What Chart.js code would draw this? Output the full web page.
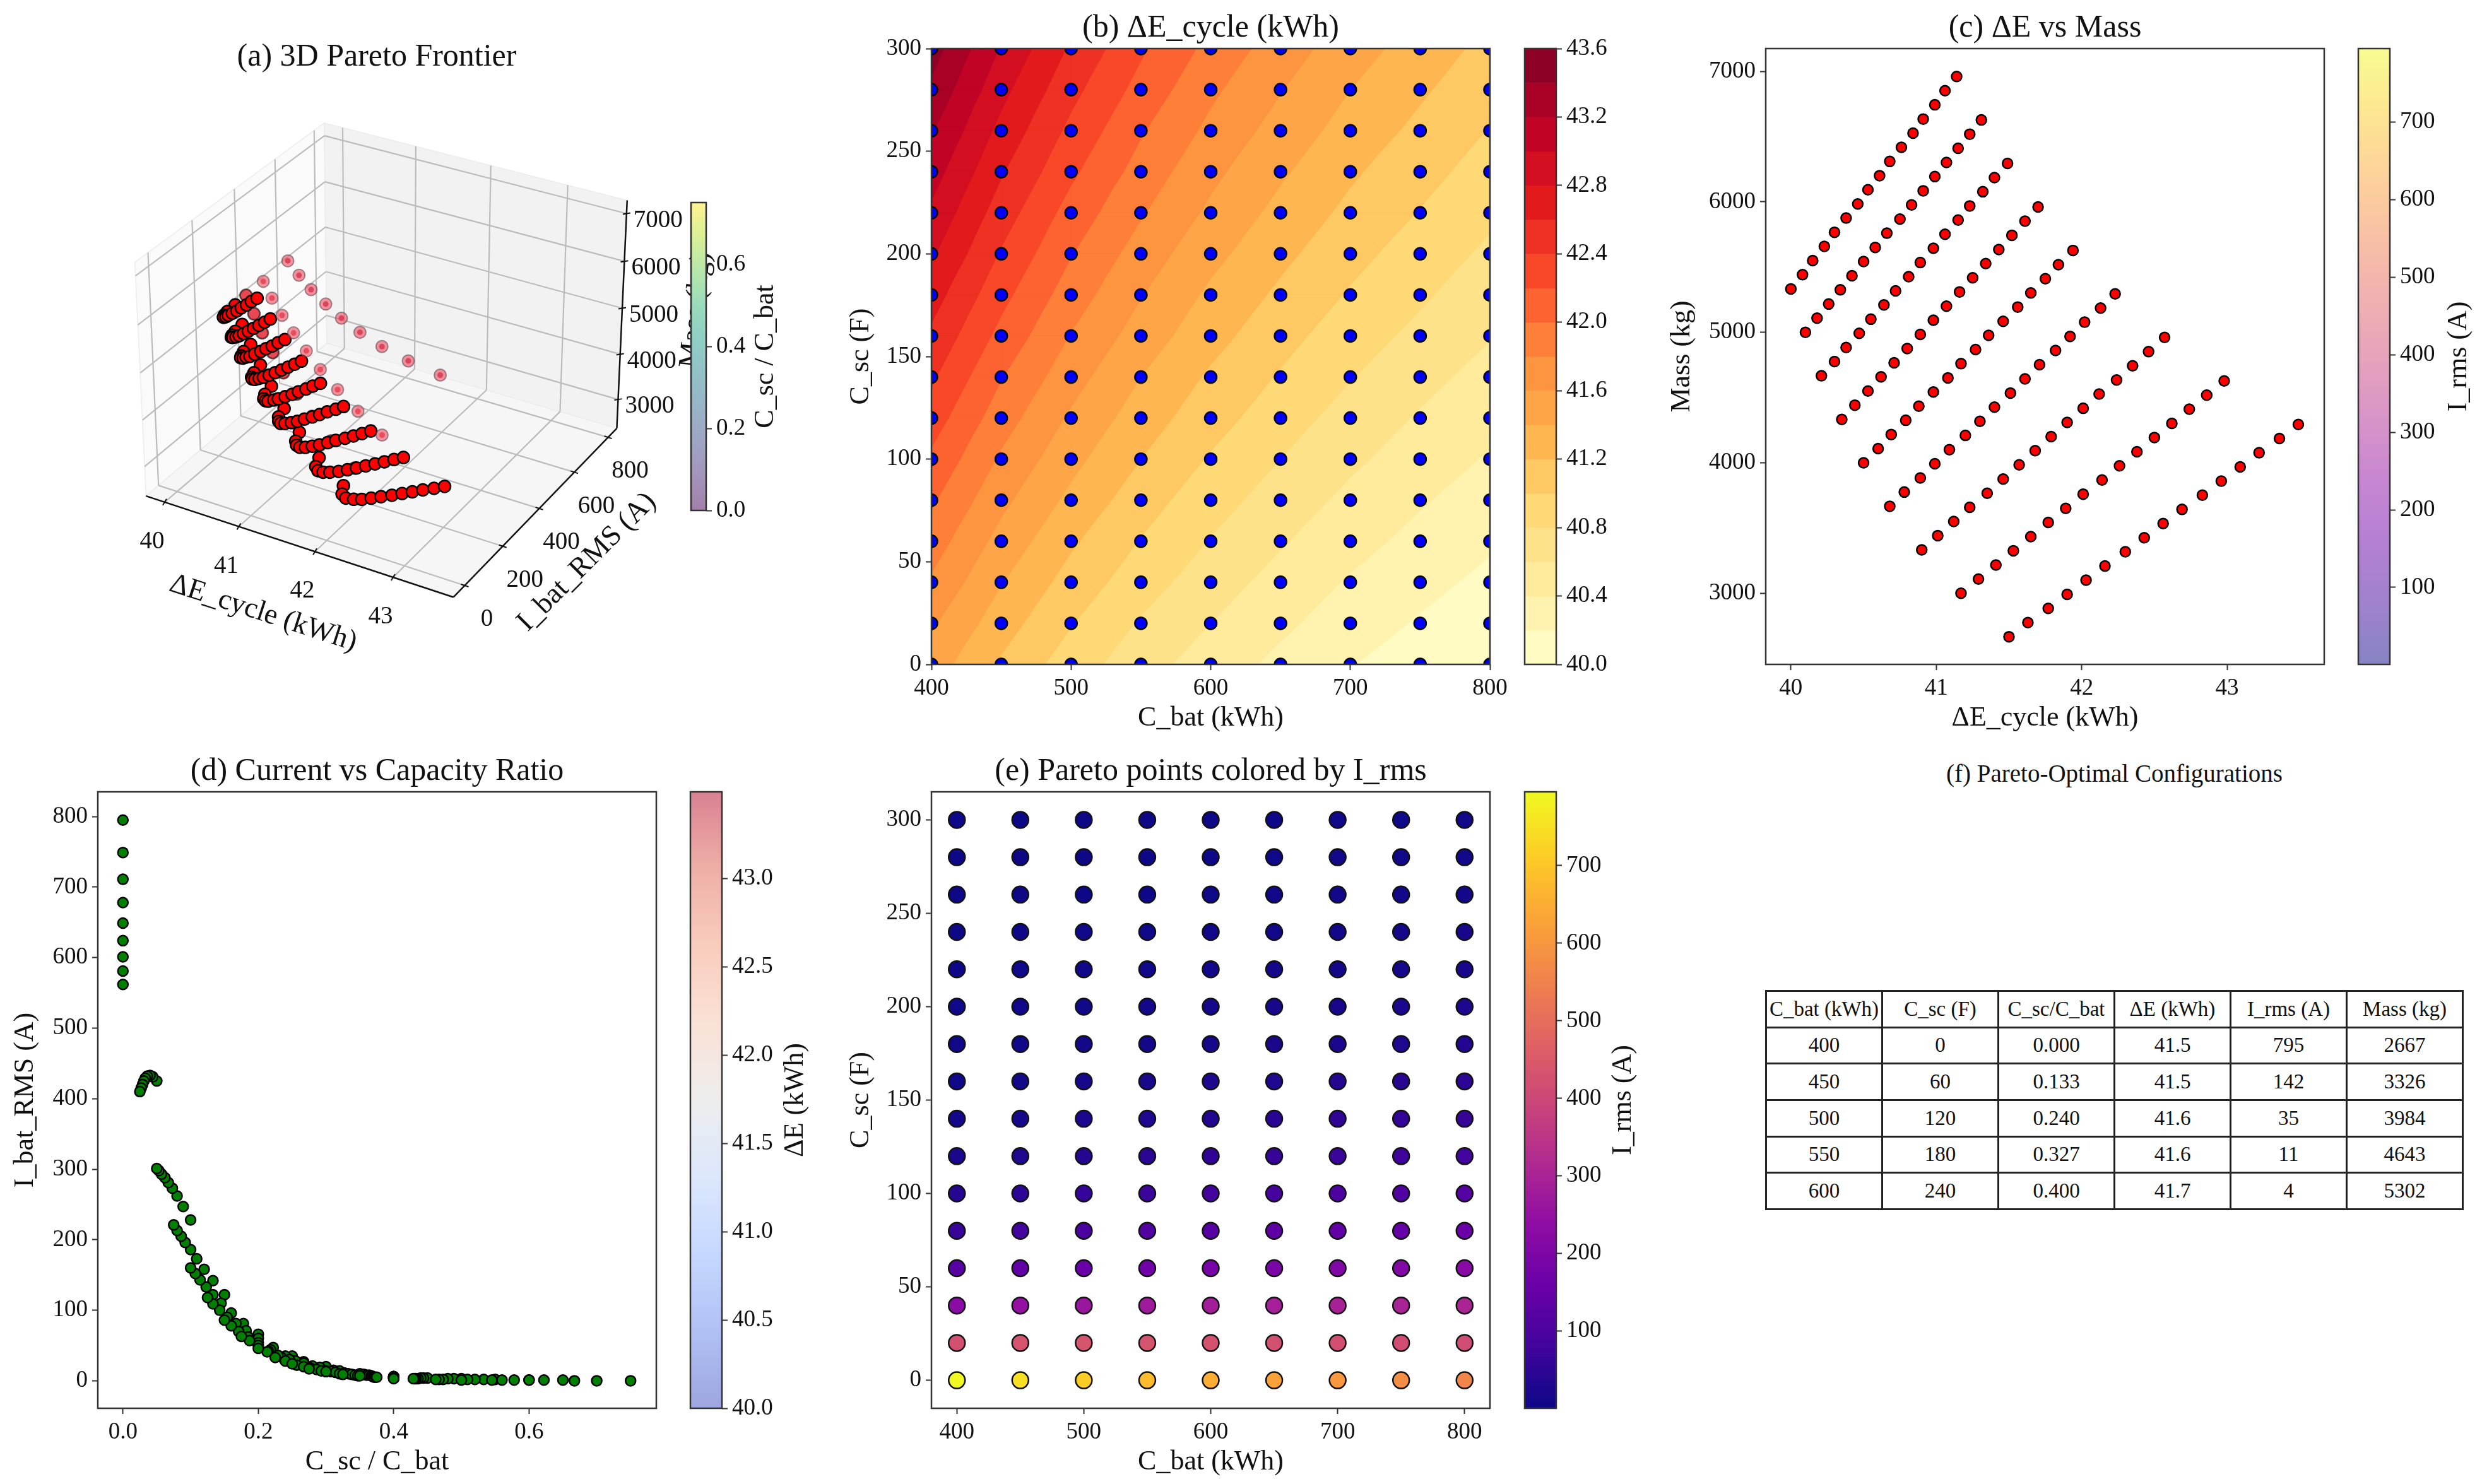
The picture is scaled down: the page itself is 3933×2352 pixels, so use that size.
<!DOCTYPE html>
<html lang="en">
<head>
<meta charset="UTF-8" />
<title>Pareto analysis</title>
<script src="https://cdn.jsdelivr.net/npm/chart.js"></script>
<style>
  html, body { margin: 0; background: #fff; }
  body { position: relative; width: 3933px; height: 2352px; overflow: hidden; font-family: "Liberation Serif", serif; color: #111; }
  canvas { position: absolute; }
  #ftitle { position: absolute; left: 2797px; width: 1107px; top: 1203px; text-align: center; font-size: 39px; }
  #ftable { position: absolute; left: 2797px; top: 1569px; width: 1107px; height: 349px; border-collapse: collapse; table-layout: fixed; font-size: 33px; }
  #ftable td { border: 3px solid #222; text-align: center; padding: 0; white-space: nowrap; }
</style>
</head>
<body>
<div id="ftitle">(f) Pareto-Optimal Configurations</div>
<table id="ftable"></table>
<script>
// grid of designs
const cBat = [400, 450, 500, 550, 600, 650, 700, 750, 800];
const cSc = [0, 20, 40, 60, 80, 100, 120, 140, 160, 180, 200, 220, 240, 260, 280, 300];

// one row per C_bat, one column per C_sc
const deltaE = [
  [41.50,41.63,41.77,41.90,42.03,42.16,42.30,42.43,42.56,42.69,42.83,42.96,43.09,43.22,43.36,43.49],
  [41.17,41.29,41.41,41.53,41.65,41.77,41.89,42.01,42.14,42.26,42.38,42.50,42.62,42.74,42.86,42.98],
  [40.90,41.01,41.12,41.23,41.35,41.46,41.57,41.68,41.79,41.90,42.01,42.12,42.24,42.35,42.46,42.57],
  [40.68,40.78,40.89,40.99,41.09,41.20,41.30,41.40,41.51,41.61,41.71,41.82,41.92,42.02,42.13,42.23],
  [40.50,40.60,40.69,40.79,40.88,40.98,41.08,41.17,41.27,41.36,41.46,41.56,41.65,41.75,41.84,41.94],
  [40.35,40.44,40.53,40.62,40.71,40.80,40.89,40.98,41.07,41.16,41.25,41.34,41.43,41.52,41.61,41.70],
  [40.21,40.30,40.38,40.47,40.55,40.64,40.72,40.81,40.89,40.98,41.06,41.15,41.23,41.32,41.40,41.49],
  [40.10,40.18,40.26,40.34,40.42,40.50,40.58,40.66,40.75,40.83,40.91,40.99,41.07,41.15,41.23,41.31],
  [40.00,40.08,40.15,40.23,40.30,40.38,40.46,40.53,40.61,40.68,40.76,40.84,40.91,40.99,41.06,41.14]
];
const massKg = [
  [2667,2775,2884,2992,3101,3209,3318,3426,3535,3643,3752,3860,3969,4077,4186,4294],
  [3000,3109,3217,3326,3434,3543,3651,3760,3868,3977,4085,4194,4302,4411,4519,4628],
  [3333,3442,3550,3659,3767,3876,3984,4093,4201,4310,4418,4527,4635,4744,4852,4961],
  [3667,3776,3884,3993,4101,4210,4318,4427,4535,4643,4752,4861,4969,5078,5186,5295],
  [4000,4109,4217,4326,4434,4543,4651,4760,4868,4977,5085,5194,5302,5411,5519,5628],
  [4333,4442,4550,4659,4767,4876,4984,5093,5201,5310,5418,5527,5635,5744,5852,5961],
  [4667,4776,4884,4993,5101,5210,5318,5427,5535,5644,5752,5861,5969,6078,6186,6295],
  [5000,5109,5217,5326,5434,5543,5651,5760,5868,5977,6085,6194,6302,6411,6519,6628],
  [5333,5442,5550,5659,5767,5876,5984,6093,6201,6310,6418,6527,6635,6744,6852,6961]
];
const iRms = [
  [795,425,228,122,66,35,20,10,6,4,3,2,1,1,0,0],
  [749,431,247,142,81,47,27,15,9,6,4,3,2,1,1,0],
  [711,433,262,158,96,60,35,21,14,8,6,4,3,2,1,1],
  [678,432,273,173,110,71,44,28,19,11,8,5,3,2,2,1],
  [649,429,281,186,122,81,54,34,25,14,10,7,4,3,2,1],
  [624,425,288,196,133,90,62,42,30,18,13,9,6,4,3,2],
  [601,420,293,205,143,100,70,50,36,22,16,12,8,5,4,3],
  [581,415,298,213,152,109,78,57,41,28,20,14,10,7,5,3],
  [562,410,301,221,160,118,86,63,46,33,24,17,13,9,7,5]
];
const capRatio = [
  [0,.05,.1,.15,.2,.25,.3,.35,.4,.45,.5,.55,.6,.65,.7,.75],
  [0,.044,.089,.133,.178,.222,.267,.311,.356,.4,.444,.489,.533,.578,.622,.667],
  [0,.04,.08,.12,.16,.2,.24,.28,.32,.36,.4,.44,.48,.52,.56,.6],
  [0,.036,.073,.109,.145,.182,.218,.255,.291,.327,.364,.4,.436,.473,.509,.545],
  [0,.033,.067,.1,.133,.167,.2,.233,.267,.3,.333,.367,.4,.433,.467,.5],
  [0,.031,.062,.092,.123,.154,.185,.215,.246,.277,.308,.338,.369,.4,.431,.462],
  [0,.029,.057,.086,.114,.143,.171,.2,.229,.257,.286,.314,.343,.371,.4,.429],
  [0,.027,.053,.08,.107,.133,.16,.187,.213,.24,.267,.293,.32,.347,.373,.4],
  [0,.025,.05,.075,.1,.125,.15,.175,.2,.225,.25,.275,.3,.325,.35,.375]
];

// contour levels of panel b
const contourLevels = [40.0,40.2,40.4,40.6,40.8,41.0,41.2,41.4,41.6,41.8,42.0,42.2,42.4,42.6,42.8,43.0,43.2,43.4,43.6];

// tick labels
const batTicks = [400, 500, 600, 700, 800];
const scTicks = [0, 50, 100, 150, 200, 250, 300];
const energyTicks = [40, 41, 42, 43];
const massTicks = [3000, 4000, 5000, 6000, 7000];
const ratioTicks = [0, 0.2, 0.4, 0.6];
const currentTicks = [0, 100, 200, 300, 400, 500, 600, 700, 800];
const current3dTicks = [0, 200, 400, 600, 800];
const levelBarTicks = [40.0,40.4,40.8,41.2,41.6,42.0,42.4,42.8,43.2,43.6];
const rmsBarTicks = [100, 200, 300, 400, 500, 600, 700];
const energyBarTicks = [40.0,40.5,41.0,41.5,42.0,42.5,43.0];
const ratioBarTicks = [0, 0.2, 0.4, 0.6];

// table (f)
const tableHeader = ["C_bat (kWh)", "C_sc (F)", "C_sc/C_bat", "ΔE (kWh)", "I_rms (A)", "Mass (kg)"];
const tableRows = [
  ["400", "0", "0.000", "41.5", "795", "2667"],
  ["450", "60", "0.133", "41.5", "142", "3326"],
  ["500", "120", "0.240", "41.6", "35", "3984"],
  ["550", "180", "0.327", "41.6", "11", "4643"],
  ["600", "240", "0.400", "41.7", "4", "5302"]
];

// colormaps
const plasma = ["#0d0887","#41049d","#6a00a8","#8f0da4","#b12a90","#cc4778","#e16462","#f1844b","#fca636","#fcce25","#f0f921"];
const viridis = ["#440154","#482878","#3e4989","#31688e","#26828e","#1f9e89","#35b779","#6ece58","#b5de2b","#fde725"];
const coolwarm = ["#3b4cc0","#6282ea","#8db0fe","#b8d0f9","#dddcdc","#f5c4ad","#f49a7b","#de604d","#b40426"];
const ylOrRd = ["#ffffcc","#ffeda0","#fed976","#feb24c","#fd8d3c","#fc4e2a","#e31a1c","#bd0026","#800026"];

function hexRgb(h) { return [1, 3, 5].map(i => parseInt(h.substr(i, 2), 16)); }
function sample(map, t) {
  t = Math.max(0, Math.min(1, t)) * (map.length - 1);
  const i = Math.min(Math.floor(t), map.length - 2), f = t - i;
  const a = hexRgb(map[i]), b = hexRgb(map[i + 1]);
  return "rgb(" + a.map((v, k) => Math.round(v + (b[k] - v) * f)).join(",") + ")";
}

Chart.defaults.font.family = '"Liberation Serif", serif';
Chart.defaults.color = "#111";
Chart.defaults.animation = false;
Chart.defaults.responsive = false;
Chart.defaults.devicePixelRatio = 1;
Chart.defaults.plugins.legend.display = false;
Chart.defaults.plugins.tooltip.enabled = false;

const TICK_FONT = 37, LABEL_FONT = 44, TITLE_FONT = 50;

function addCanvas(left, top, width, height) {
  const c = document.createElement("canvas");
  c.width = width; c.height = height;
  c.style.left = left + "px"; c.style.top = top + "px";
  document.body.appendChild(c);
  return c;
}

const framePlugin = {
  id: "frame",
  afterDraw(chart) {
    const a = chart.chartArea, ctx = chart.ctx;
    ctx.save(); ctx.strokeStyle = "#333"; ctx.lineWidth = 2.5;
    ctx.strokeRect(a.left, a.top, a.right - a.left, a.bottom - a.top);
    ctx.restore();
  }
};

function linAxis(min, max, ticks, dec) {
  return {
    type: "linear", min, max,
    afterBuildTicks: s => { s.ticks = ticks.map(v => ({ value: v })); },
    ticks: { font: { size: TICK_FONT }, padding: 7, autoSkip: false, maxRotation: 0, callback: v => v.toFixed(dec) },
    grid: { display: true, drawOnChartArea: false, drawTicks: true, tickLength: 9, tickWidth: 2, tickColor: "#333" },
    border: { display: false }
  };
}

// one plot panel; box is the plot rectangle in page pixels
function panel(box, title, xAxis, yAxis, xLabel, yLabel, yLabelOffset, datasets, extra) {
  const M = yLabelOffset + 27, T = 62, B = 112;
  const w = box.r - box.l, h = box.b - box.t;
  const canvas = addCanvas(box.l - M, box.t - T, w + 2 * M, h + T + B);
  xAxis.position = "bottom";
  xAxis.title = { display: true, text: xLabel, font: { size: LABEL_FONT }, padding: 0 };
  xAxis.afterFit = s => { s.height = B; };
  yAxis.position = "left";
  yAxis.title = { display: true, text: yLabel, font: { size: LABEL_FONT }, padding: 0 };
  yAxis.afterFit = s => { s.width = M; };
  return new Chart(canvas, {
    type: "scatter",
    data: { datasets },
    options: {
      layout: { padding: { right: M } },
      scales: { x: xAxis, y: yAxis },
      plugins: { title: { display: true, fullSize: false, text: title, color: "#111", font: { size: TITLE_FONT, weight: "normal" }, padding: { top: 0, bottom: 2 } } }
    },
    plugins: [framePlugin].concat(extra || [])
  });
}

// colour bar chart, paint() fills the bar
function colorBar(box, min, max, ticks, dec, label, labelOffset, paint) {
  const PAD = 40, CW = labelOffset ? labelOffset + 32 : 150;
  const canvas = addCanvas(box.l - PAD, box.t - 30, box.r - box.l + PAD + CW, box.b - box.t + 60);
  const yAxis = linAxis(min, max, ticks, dec);
  yAxis.position = "right";
  yAxis.afterFit = s => { s.width = CW; };
  const plugin = {
    id: "bar",
    beforeDatasetsDraw(chart) {
      const ctx = chart.ctx, a = chart.chartArea;
      ctx.save();
      ctx.fillStyle = "#fff";
      ctx.fillRect(a.left, a.top, a.right - a.left, a.bottom - a.top);
      paint(ctx, a, chart.scales.y);
      ctx.restore();
    },
    afterDraw(chart) {
      if (!label) return;
      const ctx = chart.ctx, a = chart.chartArea;
      ctx.save();
      ctx.translate(a.right + labelOffset, (a.top + a.bottom) / 2);
      ctx.rotate(-Math.PI / 2);
      ctx.font = LABEL_FONT + 'px "Liberation Serif"';
      ctx.fillStyle = "#111"; ctx.textAlign = "center"; ctx.textBaseline = "middle";
      ctx.fillText(label, 0, 0);
      ctx.restore();
    }
  };
  return new Chart(canvas, {
    type: "scatter",
    data: { datasets: [] },
    options: {
      layout: { padding: { left: PAD, top: 30, bottom: 30 } },
      scales: { x: { display: false, min: 0, max: 1 }, y: yAxis }
    },
    plugins: [plugin, framePlugin]
  });
}

function gradientPaint(map, alpha) {
  return (ctx, a) => {
    const g = ctx.createLinearGradient(0, a.bottom, 0, a.top);
    map.forEach((c, i) => g.addColorStop(i / (map.length - 1), c));
    ctx.globalAlpha = alpha;
    ctx.fillStyle = g;
    ctx.fillRect(a.left, a.top, a.right - a.left, a.bottom - a.top);
  };
}

function levelColor(i) {
  const lo = contourLevels[0], hi = contourLevels[contourLevels.length - 1];
  return sample(ylOrRd, ((contourLevels[i] + contourLevels[i + 1]) / 2 - lo) / (hi - lo));
}

// part of a triangle where the value is at or above the level
function clipAbove(tri, lv) {
  const out = [];
  tri.forEach((p, i) => {
    const q = tri[(i + 1) % tri.length];
    if (p[2] >= lv) out.push(p);
    if ((p[2] >= lv) !== (q[2] >= lv)) {
      const t = (lv - p[2]) / (q[2] - p[2]);
      out.push([p[0] + (q[0] - p[0]) * t, p[1] + (q[1] - p[1]) * t, lv]);
    }
  });
  return out;
}

const contourPlugin = {
  id: "contour",
  beforeDatasetsDraw(chart) {
    const ctx = chart.ctx, xs = chart.scales.x, ys = chart.scales.y;
    ctx.save();
    for (let l = 0; l < contourLevels.length - 1; l++) {
      ctx.beginPath();
      for (let i = 0; i < cBat.length - 1; i++) {
        for (let j = 0; j < cSc.length - 1; j++) {
          const pt = (a, b) => [xs.getPixelForValue(cBat[a]), ys.getPixelForValue(cSc[b]), deltaE[a][b]];
          const tris = [[pt(i, j), pt(i + 1, j), pt(i + 1, j + 1)], [pt(i, j), pt(i + 1, j + 1), pt(i, j + 1)]];
          tris.forEach(t => {
            const poly = clipAbove(t, contourLevels[l]);
            poly.forEach((p, k) => k ? ctx.lineTo(p[0], p[1]) : ctx.moveTo(p[0], p[1]));
            ctx.closePath();
          });
        }
      }
      ctx.fillStyle = ctx.strokeStyle = levelColor(l);
      ctx.lineWidth = 1;
      ctx.fill(); ctx.stroke();
    }
    ctx.restore();
  }
};

// flat lists of the points
function points(fx, fy) {
  const out = [];
  cBat.forEach((_, a) => cSc.forEach((__, b) => out.push({ x: fx(a, b), y: fy(a, b), a, b })));
  return out;
}

// ---- panel b ----
panel({ l: 1476, r: 2361, t: 77, b: 1053 }, "(b) ΔE_cycle (kWh)",
  linAxis(400, 800, batTicks, 0), linAxis(0, 300, scTicks, 0), "C_bat (kWh)", "C_sc (F)", 111,
  [{ data: points(a => cBat[a], (a, b) => cSc[b]), clip: 0, pointRadius: 9.5, pointBorderWidth: 2.5, pointBackgroundColor: "#0000ff", pointBorderColor: "#000" }],
  [contourPlugin]);
colorBar({ l: 2416, r: 2466, t: 77, b: 1053 }, 40, 43.6, levelBarTicks, 1, null, 0, (ctx, a, ys) => {
  for (let i = 0; i < contourLevels.length - 1; i++) {
    const top = ys.getPixelForValue(contourLevels[i + 1]), bot = ys.getPixelForValue(contourLevels[i]);
    ctx.fillStyle = levelColor(i);
    ctx.fillRect(a.left, top, a.right - a.left, bot - top + 0.5);
  }
});

// ---- panel c ----
panel({ l: 2798, r: 3683, t: 77, b: 1053 }, "(c) ΔE vs Mass",
  linAxis(39.827, 43.668, energyTicks, 0), linAxis(2455, 7175, massTicks, 0), "ΔE_cycle (kWh)", "Mass (kg)", 132,
  [{ data: points((a, b) => deltaE[a][b], (a, b) => massKg[a][b]), pointRadius: 8, pointBorderWidth: 2.5, pointBackgroundColor: "#ff0000", pointBorderColor: "#000" }]);
colorBar({ l: 3737, r: 3787, t: 77, b: 1053 }, 0.6, 795, rmsBarTicks, 0, "I_rms (A)", 109, gradientPaint(plasma, 0.5));

// ---- panel d ----
panel({ l: 155, r: 1040, t: 1255, b: 2232 }, "(d) Current vs Capacity Ratio",
  linAxis(-0.0371, 0.788, ratioTicks, 1), linAxis(-39, 835, currentTicks, 0), "C_sc / C_bat", "I_bat_RMS (A)", 114,
  [{ data: points((a, b) => capRatio[a][b], (a, b) => iRms[a][b]), pointRadius: 8, pointBorderWidth: 2.5, pointBackgroundColor: "#008000", pointBorderColor: "#000" }]);
colorBar({ l: 1094, r: 1144, t: 1255, b: 2232 }, 40, 43.49, energyBarTicks, 1, "ΔE (kWh)", 116, gradientPaint(coolwarm, 0.5));

// ---- panel e ----
const ePoints = points(a => cBat[a], (a, b) => cSc[b]);
panel({ l: 1476, r: 2361, t: 1255, b: 2232 }, "(e) Pareto points colored by I_rms",
  linAxis(380, 820, batTicks, 0), linAxis(-15, 315, scTicks, 0), "C_bat (kWh)", "C_sc (F)", 111,
  [{ data: ePoints, pointRadius: 13, pointBorderWidth: 2.5, pointBorderColor: "#111",
     pointBackgroundColor: ePoints.map(p => sample(plasma, iRms[p.a][p.b] / 795)) }]);
colorBar({ l: 2416, r: 2466, t: 1255, b: 2232 }, 0.6, 795, rmsBarTicks, 0, "I_rms (A)", 106, gradientPaint(plasma, 1));

// ---- panel a: default 3D camera (elev 30, azim -60) projected to 2D ----
const limE = [39.745, 43.755], limI = [-58, 853], limM = [2354, 7274];
const BOX = [1.19, 1.19, 0.893];
const U = [0.866, 0.5, 0], V = [-0.25, 0.433, 0.866], W = [0.433, -0.75, 0.5];
const SCALE3D = 4786, ORIGIN_X = 611.6, ORIGIN_Y = 558;
const dot = (p, q) => p[0] * q[0] + p[1] * q[1] + p[2] * q[2];

function project(e, i, m) {
  const d = [
    ((e - limE[0]) / (limE[1] - limE[0]) - 0.5) * BOX[0],
    ((i - limI[0]) / (limI[1] - limI[0]) - 0.5) * BOX[1],
    ((m - limM[0]) / (limM[1] - limM[0]) - 0.5) * BOX[2]
  ];
  const depth = dot(d, W), w = 10 - depth;
  return { x: dot(d, U) / w, y: dot(d, V) / w, depth };
}

const cloud = [];
cBat.forEach((_, a) => cSc.forEach((__, b) => {
  const p = project(deltaE[a][b], iRms[a][b], massKg[a][b]);
  p.b = b;
  cloud.push(p);
}));
const backPts = cloud.filter(p => p.b < 2).sort((p, q) => p.depth - q.depth);
const frontPts = cloud.filter(p => p.b >= 2).sort((p, q) => p.depth - q.depth);

const paneGrid = {
  id: "paneGrid",
  beforeDatasetsDraw(chart) {
    const ctx = chart.ctx, xs = chart.scales.x, ys = chart.scales.y;
    const px = (e, i, m) => { const p = project(e, i, m); return [xs.getPixelForValue(p.x), ys.getPixelForValue(p.y)]; };
    const seg = (a, b, color, width) => {
      ctx.beginPath(); ctx.moveTo(a[0], a[1]); ctx.lineTo(b[0], b[1]);
      ctx.strokeStyle = color; ctx.lineWidth = width; ctx.stroke();
    };
    const poly = (pts, color) => {
      ctx.beginPath();
      pts.forEach((p, k) => k ? ctx.lineTo(p[0], p[1]) : ctx.moveTo(p[0], p[1]));
      ctx.closePath(); ctx.fillStyle = color; ctx.fill();
      ctx.strokeStyle = "#ececec"; ctx.lineWidth = 1.5; ctx.stroke();
    };
    const [e0, e1] = limE, [i0, i1] = limI, [m0, m1] = limM;
    ctx.save();
    poly([px(e0,i0,m0), px(e0,i1,m0), px(e0,i1,m1), px(e0,i0,m1)], "#fafafa");
    poly([px(e0,i1,m0), px(e1,i1,m0), px(e1,i1,m1), px(e0,i1,m1)], "#f2f2f2");
    poly([px(e0,i0,m0), px(e1,i0,m0), px(e1,i1,m0), px(e0,i1,m0)], "#f6f6f6");

    const GRID = "#bcbcbc";
    energyTicks.forEach(v => { seg(px(v,i0,m0), px(v,i1,m0), GRID, 2.2); seg(px(v,i1,m0), px(v,i1,m1), GRID, 2.2); });
    current3dTicks.forEach(v => { seg(px(e0,v,m0), px(e1,v,m0), GRID, 2.2); seg(px(e0,v,m0), px(e0,v,m1), GRID, 2.2); });
    massTicks.forEach(v => { seg(px(e0,i0,v), px(e0,i1,v), GRID, 2.2); seg(px(e0,i1,v), px(e1,i1,v), GRID, 2.2); });

    seg(px(e0,i0,m0), px(e1,i0,m0), "#111", 2.5);
    seg(px(e1,i0,m0), px(e1,i1,m0), "#111", 2.5);
    seg(px(e1,i1,m0), px(e1,i1,m1), "#111", 2.5);

    ctx.font = '39px "Liberation Serif"';
    ctx.fillStyle = "#111"; ctx.textAlign = "center"; ctx.textBaseline = "middle";
    const tickLabel = (p, text, dx, dy, tx, ty) => {
      seg([p[0] - tx, p[1] - ty], [p[0] + tx, p[1] + ty], "#111", 2);
      ctx.fillText(text, p[0] + dx, p[1] + dy);
    };
    energyTicks.forEach(v => tickLabel(px(v,i0,m0), String(v), -20, 63, -3, 5));
    current3dTicks.forEach(v => tickLabel(px(e1,v,m0), String(v), 35, 54, 6, 2));
    massTicks.forEach(v => tickLabel(px(e1,i1,v), String(v), 50, 11, 6, -1));

    const rotated = (text, x, y, deg) => {
      ctx.save();
      ctx.translate(x, y); ctx.rotate(deg * Math.PI / 180);
      ctx.font = '46px "Liberation Serif"';
      ctx.fillText(text, 0, 0);
      ctx.restore();
    };
    rotated("ΔE_cycle (kWh)", 417, 972 - 61, 18);
    rotated("I_bat_RMS (A)", 930, 891 - 61, -45);
    rotated("Mass (kg)", 1103, 491 - 61, -84);
    ctx.restore();
  }
};

new Chart(addCanvas(0, 61, 1194, 1039), {
  type: "scatter",
  data: { datasets: [
    { data: backPts, clip: false, pointRadius: 9.5, pointBorderWidth: 2,
      pointBackgroundColor: "rgba(242,80,95,.62)", pointBorderColor: "rgba(80,70,80,.55)" },
    { data: backPts, clip: false, pointRadius: 4.5, pointBorderWidth: 0,
      pointBackgroundColor: backPts.map(p => p.b === 0 ? "#b0305f" : "#d8465a") },
    { data: frontPts, clip: false, pointRadius: 9.5, pointBorderWidth: 2.5,
      pointBackgroundColor: frontPts.map(p => p.b === 2 ? "rgba(228,40,50,.85)" : "#ff0000"),
      pointBorderColor: frontPts.map(p => p.b === 2 ? "rgba(40,20,20,.7)" : "#000") }
  ] },
  options: {
    scales: {
      x: { display: false, min: -ORIGIN_X / SCALE3D, max: (1194 - ORIGIN_X) / SCALE3D },
      y: { display: false, min: (ORIGIN_Y - 1100) / SCALE3D, max: (ORIGIN_Y - 121) / SCALE3D }
    },
    plugins: { title: { display: true, text: "(a) 3D Pareto Frontier", color: "#111", font: { size: TITLE_FONT, weight: "normal" }, padding: 0 } }
  },
  plugins: [paneGrid]
});
colorBar({ l: 1095, r: 1119, t: 321, b: 809 }, 0, 0.751, ratioBarTicks, 1, "C_sc / C_bat", 94, gradientPaint(viridis, 0.5));

// ---- table f ----
const table = document.getElementById("ftable");
[tableHeader].concat(tableRows).forEach(row => {
  const tr = document.createElement("tr");
  row.forEach(cell => { const td = document.createElement("td"); td.textContent = cell; tr.appendChild(td); });
  table.appendChild(tr);
});
</script>
</body>
</html>
